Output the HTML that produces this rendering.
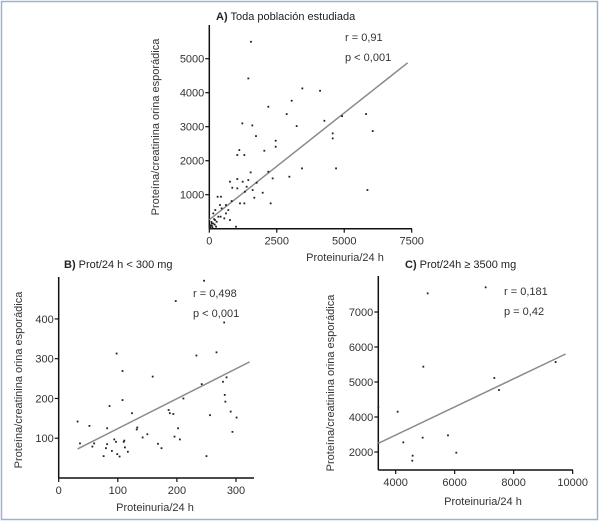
<!DOCTYPE html>
<html><head><meta charset="utf-8"><style>
html,body{margin:0;padding:0;background:#fff}
svg{display:block;font-family:"Liberation Sans",sans-serif}
</style></head><body>
<svg id="chart" width="600" height="523" viewBox="0 0 600 523" xmlns="http://www.w3.org/2000/svg">
<rect x="1.5" y="1.5" width="596" height="518" fill="none" stroke="#9cb1d4" stroke-width="1.5"/>
</svg>
<script>
// ---- Panel A data ----
const aX = [1545,1446,3448,4104,2188,3053,2868,5809,4919,4264,1224,1594,3238,1730,4573,4573,6056,2460,2460,1112,1038,1298,2039,3436,4697,2966,2188,1533,2348,1755,766,1038,1236,1446,853,1038,1384,1606,1322,1978,1668,5859,1137,1298,2274,828,309,432,618,395,222,457,618,766,556,334,148,272,87,989,420,705,210,30,60,100,150,40,200,120,80,250,180];
const aY = [5498,4420,4126,4057,3587,3763,3371,3371,3312,3175,3097,3038,3018,2724,2803,2656,2871,2587,2411,2313,2166,2166,2293,1774,1774,1529,1676,1656,1480,1352,1382,1460,1382,1431,1205,1186,1235,1137,1088,1058,911,1137,745,745,745,813,940,940,696,696,549,598,450,255,304,353,450,206,157,59,353,549,255,50,100,80,150,20,120,30,200,60,280];
const aXTicks = [0,2500,5000,7500];
const aXTickLabels = ['0','2500','5000','7500'];
const aYTicks = [1000,2000,3000,4000,5000];
const aYTickLabels = ['1000','2000','3000','4000','5000'];
const aFitX = [0,7350];
const aFitY = [265,4880];
// ---- Panel B data ----
const bX = [32,36,52,57,60,76,80,82,82,86,90,94,97,98,99,103,108,108,110,111,112,117,124,132,133,142,150,159,168,174,186,188,194,196,198,202,205,211,233,242,246,250,256,267,278,280,281,282,284,291,294,301];
const bY = [142,87,131,79,87,55,75,85,125,181,68,97,91,313,60,54,196,269,91,94,77,66,163,122,127,102,110,255,86,75,171,163,161,104,445,125,97,200,308,236,496,55,158,316,242,391,209,192,253,167,116,152];
const bXTicks = [0,100,200,300];
const bXTickLabels = ['0','100','200','300'];
const bYTicks = [100,200,300,400];
const bYTickLabels = ['100','200','300','400'];
const bFitX = [32,323];
const bFitY = [73,292];
// ---- Panel C data ----
const cX = [3412,4068,4260,4576,4565,4915,4938,5085,5774,6056,7051,7345,7503,9424];
const cY = [4276,4152,3276,2895,2752,3410,5438,7533,3476,2981,7705,5114,4771,5571];
const cXTicks = [4000,6000,8000,10000];
const cXTickLabels = ['4000','6000','8000','10000'];
const cYTicks = [3000,4000,5000,6000,7000];
const cYTickLabels = ['2000','4000','5000','6000','7000'];
const cFitX = [3412,9763];
const cFitY = [3248,5800];

const NS='http://www.w3.org/2000/svg';
const svg=document.getElementById('chart');
function mk(tag,attrs,parent){const e=document.createElementNS(NS,tag);for(const k in attrs)e.setAttribute(k,attrs[k]);(parent||svg).appendChild(e);return e;}

function panel(o){
  const g=mk('g',{});
  
  
  const sx=v=>o.x0+(v-o.xmin)*o.kx;
  const sy=v=>o.y0-(v-o.ymin)*o.ky;
  // axes
  const ya=mk('line',{x1:o.x0,y1:o.yTop,x2:o.x0,y2:o.y0,stroke:'#111','stroke-width':1.5},g);
  
  
  const xa=mk('line',{x1:o.x0,y1:o.y0,x2:o.xRight,y2:o.y0,stroke:'#111','stroke-width':1.5},g);
  
  
  o.xt.forEach((v,i)=>{
    const x=sx(v);
    mk('line',{x1:x,y1:o.y0,x2:x,y2:o.y0+4,stroke:'#111','stroke-width':1.2},g);
    const t=mk('text',{x:x,y:o.y0+16,'font-size':11,'text-anchor':'middle',fill:'#333'},g);
    t.textContent=o.xtl[i];
    
    
  });
  o.yt.forEach((v,i)=>{
    const y=sy(v);
    mk('line',{x1:o.x0-4,y1:y,x2:o.x0,y2:y,stroke:'#111','stroke-width':1.2},g);
    const t=mk('text',{x:o.x0-5,y:y+4,'font-size':11,'text-anchor':'end',fill:'#333'},g);
    t.textContent=o.ytl[i];
    
    
  });
  // fit line
  const fl=mk('line',{x1:sx(o.fx[0]),y1:sy(o.fy[0]),x2:sx(o.fx[1]),y2:sy(o.fy[1]),stroke:'#8a8a8a','stroke-width':1.5},g);
  
  
  // points
  o.px.forEach((v,i)=>{
    const c=mk('rect',{x:sx(v)-0.9,y:sy(o.py[i])-0.9,width:1.8,height:1.8,fill:'#222'},g);
    
    
  });
  // titles
  const tt=mk('text',{x:o.titleX,y:o.titleY,'font-size':11,fill:'#222'},g);
  tt.innerHTML='<tspan font-weight="bold">'+o.tl+'</tspan> '+o.title;
  
  
  const xt=mk('text',{x:o.xtX,y:o.xtY,'font-size':11,'text-anchor':'middle',fill:'#333'},g);
  xt.textContent='Proteinuria/24 h';
  
  
  const yt=mk('text',{x:0,y:0,'font-size':11,'text-anchor':'middle',fill:'#333',transform:'translate('+o.ytX+','+o.ytY+') rotate(-90)'},g);
  yt.textContent='Proteína/creatinina orina esporádica';
  
  
  const r=mk('text',{x:o.statX,y:o.statY,'font-size':11,fill:'#333'},g);
  r.textContent=o.r;
  
  
  const p=mk('text',{x:o.statX,y:o.statY+20,'font-size':11,fill:'#333'},g);
  p.textContent=o.p;
  
  
}

panel({name:'panel-a',x0:209.3,y0:228.7,xmin:0,ymin:0,kx:202.4/7500,ky:0.034,yTop:25,xRight:412,
  xt:aXTicks,xtl:aXTickLabels,yt:aYTicks,ytl:aYTickLabels,fx:aFitX,fy:aFitY,px:aX,py:aY,
  tl:'A)',title:'Toda población estudiada',titleX:216,titleY:20,xtX:345,xtY:261,ytX:159,ytY:127,
  statX:345,statY:41,r:'r = 0,91',p:'p < 0,001'});
panel({name:'panel-b',x0:58.7,y0:478,xmin:0,ymin:0,kx:0.591,ky:0.3977,yTop:277,xRight:254,
  xt:bXTicks,xtl:bXTickLabels,yt:bYTicks,ytl:bYTickLabels,fx:bFitX,fy:bFitY,px:bX,py:bY,
  tl:'B)',title:'Prot/24 h < 300 mg',titleX:64,titleY:268,xtX:155,xtY:511,ytX:22,ytY:380,
  statX:193,statY:297,r:'r = 0,498',p:'p < 0,001'});
panel({name:'panel-c',x0:378.3,y0:470,xmin:3412,ymin:2486,kx:0.02950,ky:0.0350,yTop:276,xRight:573,
  xt:cXTicks,xtl:cXTickLabels,yt:cYTicks,ytl:cYTickLabels,fx:cFitX,fy:cFitY,px:cX,py:cY,
  tl:'C)',title:'Prot/24h ≥ 3500 mg',titleX:405,titleY:268,xtX:483,xtY:505,ytX:334,ytY:383,
  statX:504,statY:295,r:'r = 0,181',p:'p = 0,42'});
</script>
</body></html>
